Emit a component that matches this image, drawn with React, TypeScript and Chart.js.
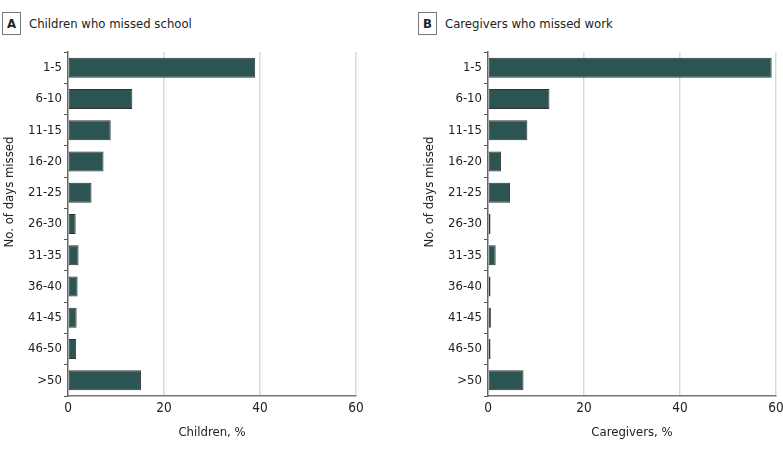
import React, { useEffect, useRef } from "react";
import { Chart, registerables } from "chart.js";

Chart.register(...registerables);

const categories = ["1-5", "6-10", "11-15", "16-20", "21-25", "26-30", "31-35", "36-40", "41-45", "46-50", ">50"];
const childrenPct = [39.0, 13.4, 8.9, 7.4, 4.9, 1.6, 2.2, 2.0, 1.8, 1.7, 15.2];
const caregiversPct = [59.1, 12.8, 8.2, 2.7, 4.6, 0.2, 1.6, 0.2, 0.6, 0.2, 7.4];
const xTicks = [0, 20, 40, 60];

const FONT = "'DejaVu Sans Condensed', 'DejaVu Sans', sans-serif";
const BAR = "#2b5452";

function Panel(props: { letter: string; title: string; xTitle: string; data: number[]; left: number; boxLeft: number }) {
  const ref = useRef<HTMLCanvasElement | null>(null);
  useEffect(() => {
    if (!ref.current) return;
    const chart = new Chart(ref.current, {
      type: "bar",
      data: {
        labels: categories,
        datasets: [
          {
            data: props.data,
            backgroundColor: BAR,
            borderColor: "#333333",
            borderWidth: 1,
            borderSkipped: false,
            minBarLength: 2.5,
            categoryPercentage: 1,
            barPercentage: 0.64,
          },
        ],
      },
      options: {
        indexAxis: "y",
        responsive: false,
        animation: false,
        layout: { padding: { top: 52, right: 24, left: 0, bottom: 0 } },
        plugins: { legend: { display: false }, tooltip: { enabled: false }, title: { display: false } },
        scales: {
          x: {
            min: 0,
            max: 60,
            afterBuildTicks: (s: any) => {
              s.ticks = xTicks.map((v) => ({ value: v }));
            },
            afterFit: (s: any) => {
              s.height = 55;
            },
            ticks: { color: "#222", font: { family: FONT, size: 13.5 }, padding: 4, maxRotation: 0 },
            grid: {
              drawTicks: false,
              lineWidth: 1.5,
              color: (ctx: any) => (ctx.tick && ctx.tick.value === 0 ? "rgba(0,0,0,0)" : "#d9d9d9"),
            },
            border: { display: true, color: "#777", width: 1.5 },
            title: {
              display: true,
              text: props.xTitle,
              color: "#222",
              font: { family: FONT, size: 13 },
              padding: { top: 0, bottom: 11 },
            },
          },
          y: {
            afterFit: (s: any) => {
              s.width = 68;
            },
            ticks: { color: "#222", font: { family: FONT, size: 13 }, padding: 2 },
            grid: { drawOnChartArea: false, drawTicks: true, tickLength: 4, color: "#555" },
            border: { display: true, color: "#666", width: 1.5 },
            title: { display: false },
          },
        },
      },
    } as any);
    return () => chart.destroy();
  }, []);
  return (
    <>
      <div
        style={{
          position: "absolute",
          left: props.boxLeft,
          top: 12,
          width: 17,
          height: 21,
          border: "1px solid #777",
          fontFamily: FONT,
          fontWeight: 700,
          fontSize: 13,
          lineHeight: "21px",
          textAlign: "center",
          color: "#222",
        }}
      >
        {props.letter}
      </div>
      <div
        style={{
          position: "absolute",
          left: props.boxLeft + 27,
          top: 13,
          height: 22,
          lineHeight: "22px",
          fontFamily: FONT,
          fontSize: 13,
          color: "#222",
          whiteSpace: "nowrap",
        }}
      >
        {props.title}
      </div>
      <canvas
        ref={ref}
        width={380}
        height={451}
        style={{ position: "absolute", left: props.left, top: 0, width: 380, height: 451 }}
      />
      <div
        style={{
          position: "absolute",
          left: props.left + 9 - 70,
          top: 192 - 9,
          width: 140,
          height: 18,
          lineHeight: "18px",
          textAlign: "center",
          fontFamily: FONT,
          fontSize: 13,
          color: "#222",
          whiteSpace: "nowrap",
          transform: "rotate(-90deg)",
          transformOrigin: "50% 50%",
        }}
      >
        No. of days missed
      </div>
    </>
  );
}

export default function App() {
  return (
    <div
      style={{
        position: "fixed",
        left: 0,
        top: 0,
        width: 783,
        height: 451,
        overflow: "hidden",
        background: "#fff",
      }}
    >
      <Panel letter="A" title="Children who missed school" xTitle="Children, %" data={childrenPct} left={0} boxLeft={2} />
      <Panel letter="B" title="Caregivers who missed work" xTitle="Caregivers, %" data={caregiversPct} left={420} boxLeft={418} />
    </div>
  );
}
